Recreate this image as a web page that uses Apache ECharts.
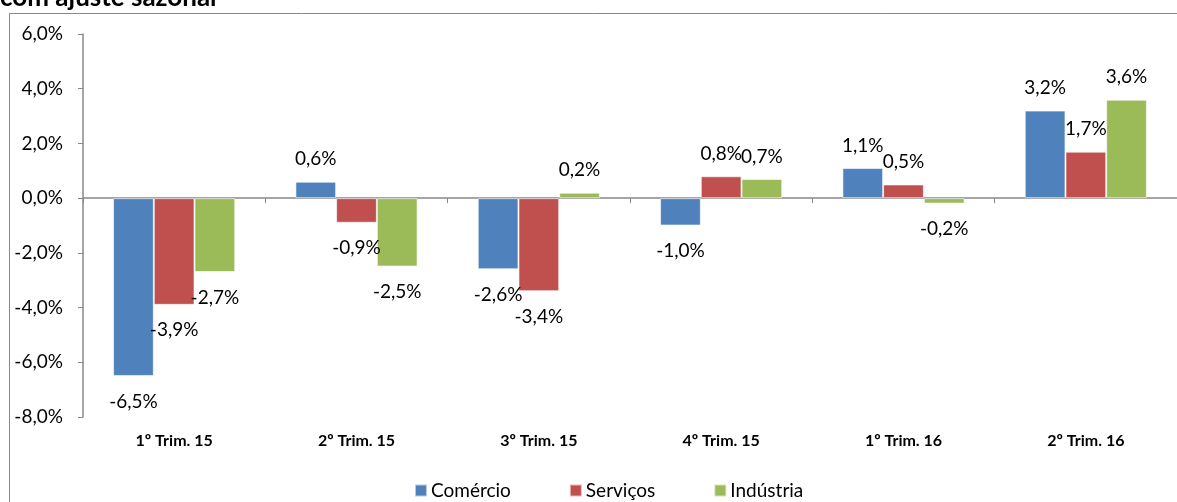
<!DOCTYPE html>
<html><head><meta charset="utf-8">
<script src="https://cdn.jsdelivr.net/npm/echarts@6/dist/echarts.min.js"></script>
<style>html,body{margin:0;padding:0;background:#fff}#c{width:1177px;height:502px}</style>
</head><body><div id="c"></div>
<script>
const categories = ['1º Trim. 15','2º Trim. 15','3º Trim. 15','4º Trim. 15','1º Trim. 16','2º Trim. 16'];
const comercio = [-6.5, 0.6, -2.6, -1.0, 1.1, 3.2];
const servicos = [-3.9, -0.9, -3.4, 0.8, 0.5, 1.7];
const industria = [-2.7, -2.5, 0.2, 0.7, -0.2, 3.6];
const yTicks = [-8, -6, -4, -2, 0, 2, 4, 6];

const FONT = 'Lato, "Open Sans", sans-serif';
const fmt = v => v.toFixed(1).replace('.', ',') + '%';
const chart = echarts.init(document.getElementById('c'));
const mk = (name, data, color) => ({
  name, type: 'bar', xAxisIndex: 0, barGap: '0%', barCategoryGap: '33%',
  itemStyle: { color, borderColor: 'rgba(255,255,255,0.6)', borderWidth: 1 },
  label: { show: true, formatter: p => fmt(p.value), fontFamily: FONT, fontSize: 19, color: '#000' },
  data: data.map(v => ({ value: v, label: { position: v >= 0 ? 'top' : 'bottom', distance: v >= 0 ? 13 : 16 } }))
});
chart.setOption({
  animation: false,
  textStyle: { fontFamily: FONT },
  graphic: [
    { type: 'rect', shape: { x: 9.5, y: 13.5, width: 1300, height: 600 }, style: { fill: 'none', stroke: '#888', lineWidth: 1 } },
    { type: 'text', x: 0, y: 11, style: { text: 'com ajuste sazonal', font: 'bold 26px ' + FONT, fill: '#000', verticalAlign: 'bottom' } }
  ],
  grid: { left: 83, right: -10, top: 34, bottom: 85 },
  legend: {
    left: 409, top: 476, itemWidth: 12, itemHeight: 12, itemGap: 58,
    icon: 'rect', textStyle: { fontSize: 19, fontFamily: FONT, color: '#000', padding: [0, 0, 0, -1] },
    data: ['Comércio', 'Serviços', 'Indústria']
  },
  xAxis: [
    { type: 'category', data: categories, axisLine: { onZero: true, lineStyle: { color: '#888', width: 1.5 } },
      axisTick: { show: true, length: 5, lineStyle: { color: '#888' } }, axisLabel: { show: false } },
    { type: 'category', data: categories, position: 'bottom', axisLine: { show: false }, axisTick: { show: false },
      axisLabel: { show: true, margin: 16, fontWeight: 'bold', fontSize: 16, color: '#000', fontFamily: FONT } }
  ],
  yAxis: {
    type: 'value', min: -8, max: 6, interval: 2,
    axisLine: { show: true, lineStyle: { color: '#888', width: 1.5 } },
    axisTick: { show: true, length: 5, lineStyle: { color: '#888' } },
    splitLine: { show: false },
    axisLabel: { margin: 20, fontSize: 19, color: '#000', fontFamily: FONT,
      formatter: v => yTicks.includes(v) ? fmt(v) : '' }
  },
  series: [
    mk('Comércio', comercio, '#4F81BD'),
    mk('Serviços', servicos, '#C0504D'),
    mk('Indústria', industria, '#9BBB59')
  ]
});
</script></body></html>
